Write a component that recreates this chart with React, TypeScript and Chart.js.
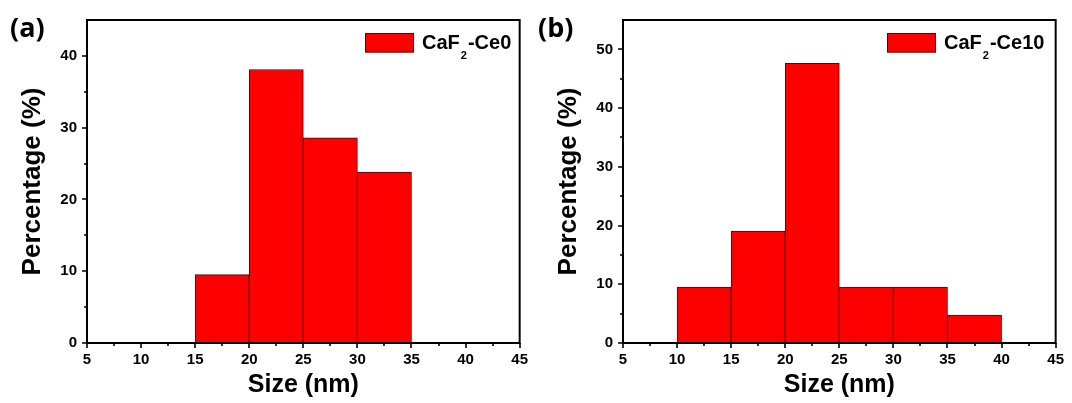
import React, { useEffect, useRef } from "react";
import { Chart, registerables } from "chart.js";

Chart.register(...registerables);

// ---- data ----
const binCentersA = [17.5, 22.5, 27.5, 32.5];
const percentA = [9.52, 38.1, 28.57, 23.81];
const binCentersB = [12.5, 17.5, 22.5, 27.5, 32.5, 37.5];
const percentB = [9.52, 19.05, 47.62, 9.52, 9.52, 4.76];

const xTickValues = [5, 10, 15, 20, 25, 30, 35, 40, 45];
const xMinorValues = [7.5, 12.5, 17.5, 22.5, 27.5, 32.5, 37.5, 42.5];
const yTicksA = [0, 10, 20, 30, 40];
const yMinorA = [5, 15, 25, 35];
const yTicksB = [0, 10, 20, 30, 40, 50];
const yMinorB = [5, 15, 25, 35, 45];
const yMaxA = 45;
const yMaxB = 55;
const xMin = 5;
const xMax = 45;

const legendA = ["CaF", "2", "-Ce0"];
const legendB = ["CaF", "2", "-Ce10"];
const panelA = "(a)";
const panelB = "(b)";
const xTitle = "Size (nm)";
const yTitle = "Percentage (%)";

const FONT = '"Liberation Sans", Arial, sans-serif';

type PanelCfg = {
  centers: number[];
  values: number[];
  yTicks: number[];
  yMinor: number[];
  yMax: number;
  legend: string[];
  legendOffset: number;
  panel: string;
  panelX: number;
};

const framePlugin = (cfg: PanelCfg) => ({
  id: "frameTicks",
  afterDraw(chart: any) {
    const ctx = chart.ctx as CanvasRenderingContext2D;
    const { left, right, top, bottom } = chart.chartArea;
    const xs = chart.scales.x;
    const ys = chart.scales.y;
    ctx.save();
    ctx.strokeStyle = "#000";
    ctx.lineWidth = 2;
    ctx.strokeRect(left, top, right - left, bottom - top);
    ctx.lineWidth = 1.6;
    ctx.beginPath();
    xTickValues.forEach((v) => {
      const px = Math.round(xs.getPixelForValue(v));
      ctx.moveTo(px, bottom);
      ctx.lineTo(px, bottom + 5);
    });
    xMinorValues.forEach((v) => {
      const px = Math.round(xs.getPixelForValue(v));
      ctx.moveTo(px, bottom);
      ctx.lineTo(px, bottom + 3);
    });
    cfg.yTicks.forEach((v) => {
      const py = Math.round(ys.getPixelForValue(v));
      ctx.moveTo(left, py);
      ctx.lineTo(left - 5, py);
    });
    cfg.yMinor.forEach((v) => {
      const py = Math.round(ys.getPixelForValue(v));
      ctx.moveTo(left, py);
      ctx.lineTo(left - 3, py);
    });
    ctx.stroke();

    // legend
    const mainFont = `bold 20px ${FONT}`;
    const subFont = `bold 11px ${FONT}`;
    const sx = left + cfg.legendOffset;
    const sy = top + 13;
    ctx.fillStyle = "#ff0000";
    ctx.fillRect(sx, sy, 49, 19.5);
    ctx.strokeStyle = "#3a1010";
    ctx.lineWidth = 1;
    ctx.strokeRect(sx + 0.5, sy + 0.5, 48, 18.5);
    ctx.fillStyle = "#000";
    ctx.textBaseline = "alphabetic";
    ctx.textAlign = "left";
    let tx = sx + 49 + 8;
    const base = top + 28.5;
    ctx.font = mainFont;
    ctx.fillText(cfg.legend[0], tx, base);
    tx += ctx.measureText(cfg.legend[0]).width + 1;
    ctx.font = subFont;
    ctx.fillText(cfg.legend[1], tx, base + 10);
    tx += ctx.measureText(cfg.legend[1]).width + 1;
    ctx.font = mainFont;
    ctx.fillText(cfg.legend[2], tx, base);

    // panel label
    ctx.font = `bold 27px "Open Sans", ${FONT}`;
    ctx.fillText(cfg.panel, cfg.panelX, 37);
    ctx.restore();
  },
});

function Panel({ cfg }: { cfg: PanelCfg }) {
  const ref = useRef<HTMLCanvasElement | null>(null);
  useEffect(() => {
    if (!ref.current) return;
    const chart = new Chart(ref.current, {
      type: "bar",
      data: {
        datasets: [
          {
            label: cfg.legend.join(""),
            data: cfg.centers.map((x, i) => ({ x, y: cfg.values[i] })) as any,
            backgroundColor: "#ff0000",
            borderColor: "#3a1010",
            borderWidth: 1,
            barPercentage: 1,
            categoryPercentage: 1,
          },
        ],
      },
      plugins: [framePlugin(cfg)],
      options: {
        animation: false,
        responsive: false,
        devicePixelRatio: 1,
        layout: { padding: { top: 20, right: 13, left: 0, bottom: 0 } },
        plugins: { legend: { display: false }, tooltip: { enabled: false } },
        scales: {
          x: {
            type: "linear",
            min: xMin,
            max: xMax,
            offset: false,
            grid: { display: false, drawTicks: false },
            border: { display: false },
            afterBuildTicks: (s: any) => {
              s.ticks = xTickValues.map((v) => ({ value: v }));
            },
            afterFit: (s: any) => {
              s.height = 60;
            },
            ticks: {
              autoSkip: false,
              maxRotation: 0,
              padding: 8,
              color: "#000",
              font: { family: FONT, size: 15, weight: "bold" },
            },
            title: {
              display: true,
              text: xTitle,
              color: "#000",
              font: { family: FONT, size: 25, weight: "bold" },
              padding: { top: 0, bottom: 3 },
            },
          },
          y: {
            type: "linear",
            min: 0,
            max: cfg.yMax,
            grid: { display: false, drawTicks: false },
            border: { display: false },
            afterBuildTicks: (s: any) => {
              s.ticks = cfg.yTicks.map((v) => ({ value: v }));
            },
            afterFit: (s: any) => {
              s.width = 87;
            },
            ticks: {
              padding: 10,
              color: "#000",
              font: { family: FONT, size: 15, weight: "bold" },
            },
            title: {
              display: true,
              text: yTitle,
              color: "#000",
              font: { family: FONT, size: 26, weight: "bold" },
              padding: { top: 17, bottom: 0 },
            },
          },
        },
      } as any,
    });
    return () => chart.destroy();
  }, [cfg]);
  return <canvas ref={ref} width={536} height={403} style={{ display: "block", width: 536, height: 403 }} />;
}

const cfgA: PanelCfg = {
  centers: binCentersA,
  values: percentA,
  yTicks: yTicksA,
  yMinor: yMinorA,
  yMax: yMaxA,
  legend: legendA,
  legendOffset: 278,
  panel: panelA,
  panelX: 10,
};
const cfgB: PanelCfg = {
  centers: binCentersB,
  values: percentB,
  yTicks: yTicksB,
  yMinor: yMinorB,
  yMax: yMaxB,
  legend: legendB,
  legendOffset: 264,
  panel: panelB,
  panelX: 2,
};

export default function App() {
  return (
    <div style={{ position: "absolute", left: 0, top: 0, width: 1072, height: 403, display: "flex", background: "#fff" }}>
      <Panel cfg={cfgA} />
      <Panel cfg={cfgB} />
    </div>
  );
}
